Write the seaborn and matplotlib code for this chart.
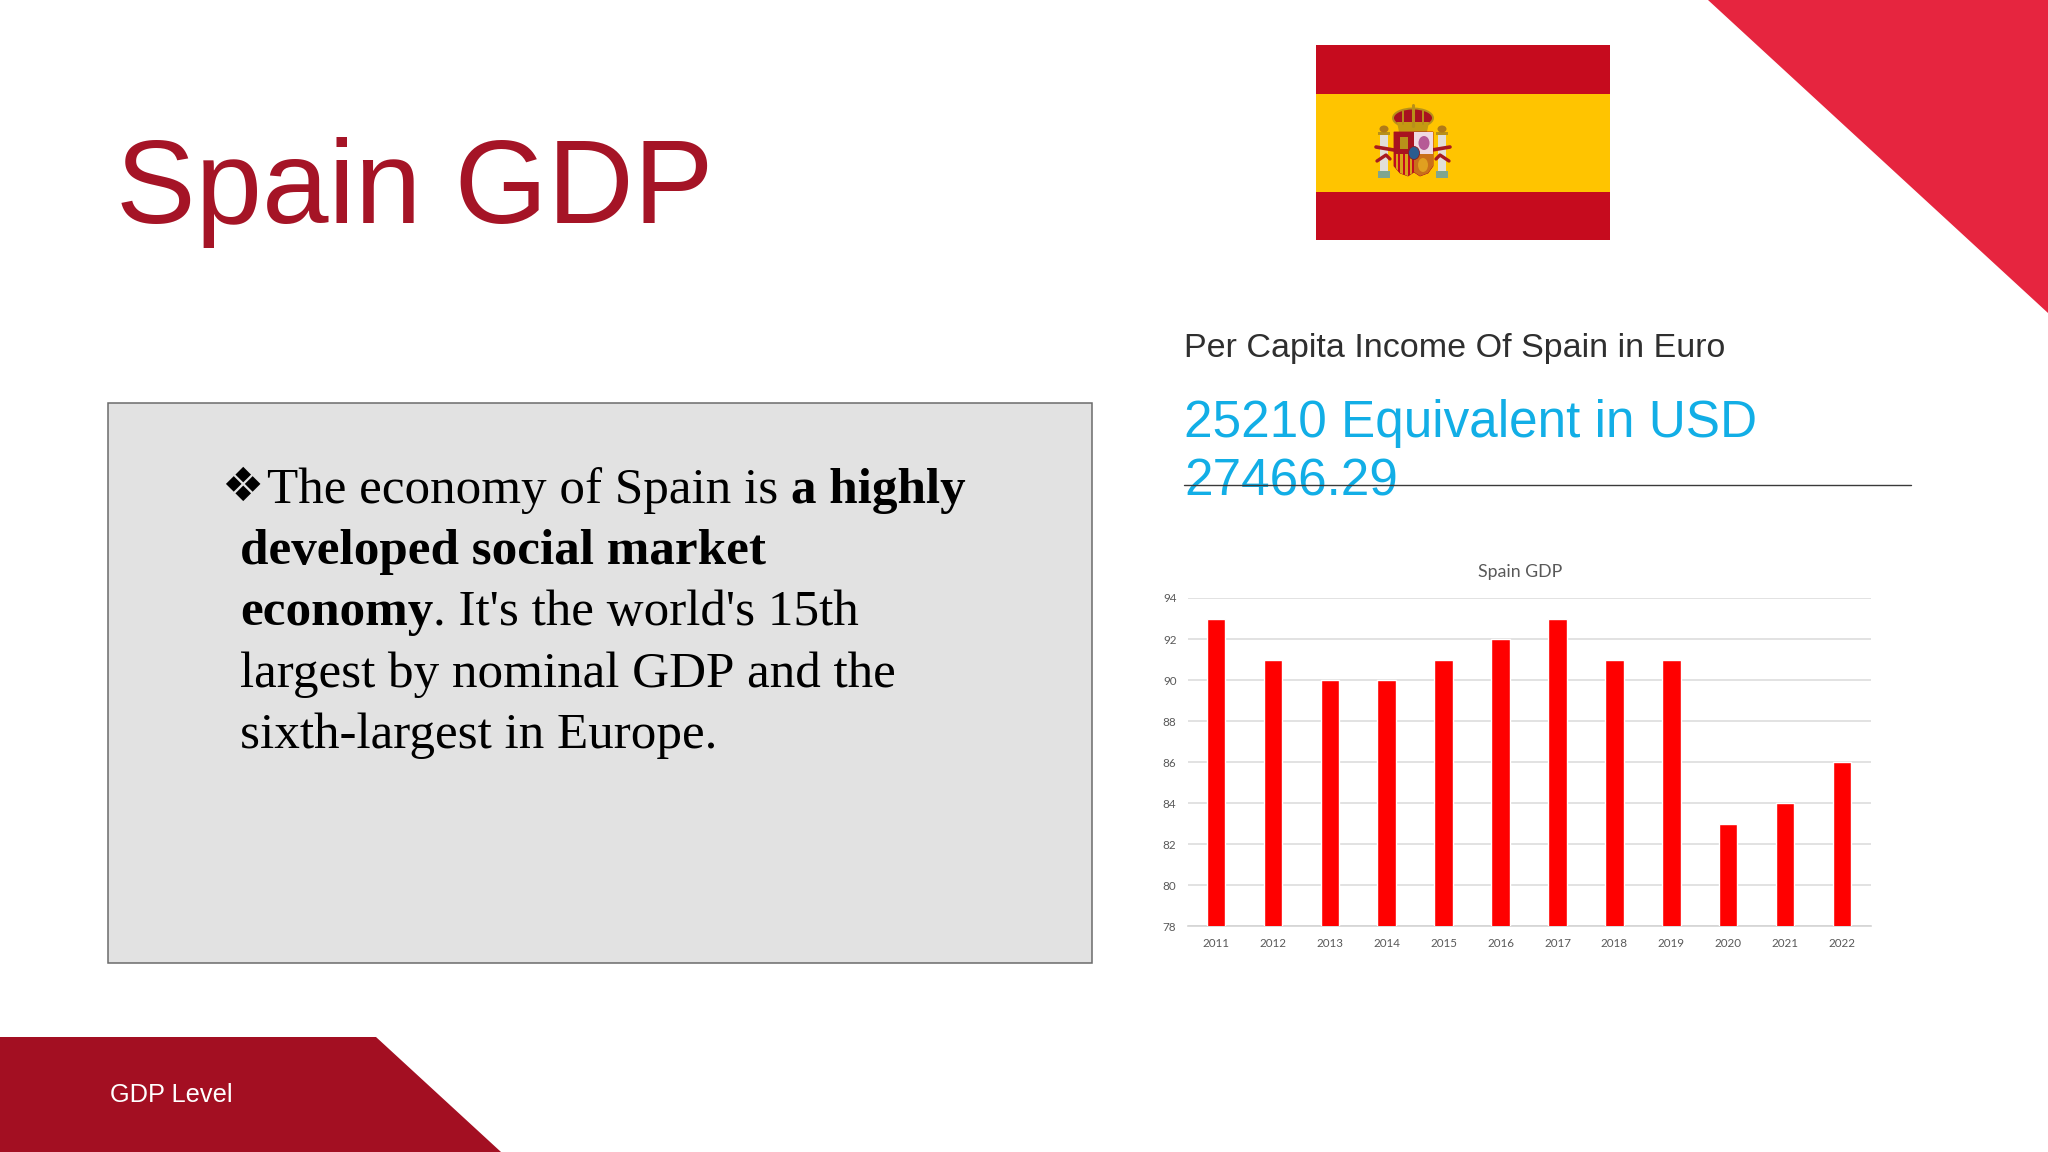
import matplotlib
matplotlib.use("Agg")
import matplotlib.pyplot as plt
from matplotlib.patches import Polygon, Rectangle, Ellipse
import seaborn as sns
import pandas as pd

years = [2011, 2012, 2013, 2014, 2015, 2016, 2017, 2018, 2019, 2020, 2021, 2022]
gdp_level = [93, 91, 90, 90, 91, 92, 93, 91, 91, 83, 84, 86]
y_ticks = [78, 80, 82, 84, 86, 88, 90, 92, 94]

W, H = 2048, 1152
sns.set_theme(style="white")
fig = plt.figure(figsize=(W / 100, H / 100), dpi=100, facecolor="white")

# slide layer in pixel coordinates
bg = fig.add_axes([0, 0, 1, 1])
bg.set_xlim(0, W)
bg.set_ylim(H, 0)
bg.axis("off")

# decorative shapes
bg.add_patch(Polygon([(1708, 0), (W, 0), (W, 313)], closed=True, fc="#E6253F", ec="none"))
bg.add_patch(Polygon([(0, 1037), (376, 1037), (501, H), (0, H)], closed=True, fc="#A30F22", ec="none"))

# flag
bg.add_patch(Rectangle((1315.5, 44.5), 294, 195.5, fc="#C60B1E", ec="none"))
bg.add_patch(Rectangle((1315.5, 93.5), 294, 98, fc="#FFC400", ec="none"))

# coat of arms: pillars
for cx, sgn in ((1384, 1), (1442, -1)):
    bg.add_patch(Rectangle((cx - 4, 132), 8, 40, fc="#E2DFD8", ec="none", zorder=3))
    bg.add_patch(Rectangle((cx - 6, 171), 12, 7, fc="#7FA58F", ec="none", zorder=3))
    bg.add_patch(Rectangle((cx - 6, 132), 12, 3, fc="#B8901A", ec="none", zorder=3))
    bg.add_patch(Ellipse((cx, 129), 9, 7, fc="#B07A18", ec="none", zorder=3))
    bg.plot([cx - 8 * sgn, cx + 10 * sgn], [147, 150], color="#A81A20", lw=2.6, zorder=4, solid_capstyle="round")
    bg.plot([cx - 7 * sgn, cx + 2 * sgn, cx + 6 * sgn], [161, 155, 159], color="#A81A20", lw=2.4, zorder=4, solid_capstyle="round")

# coat of arms: crown
bg.add_patch(Ellipse((1413, 118), 40, 19, fc="#A81220", ec="#B8901A", lw=1.4, zorder=3))
bg.add_patch(Polygon([(1397, 122), (1429, 122), (1427, 132), (1399, 132)], fc="#C49A12", ec="none", zorder=4))
bg.plot([1413, 1413], [105, 126], color="#B8901A", lw=2.2, zorder=4)
for cx in (1403, 1423):
    bg.plot([cx, cx], [111, 124], color="#B8901A", lw=1.4, zorder=4)

# coat of arms: shield
shield_clip = Polygon([(1394, 132), (1433, 132), (1433, 166), (1428, 173), (1420, 176), (1414, 172),
                       (1408, 176), (1400, 173), (1394, 166)], fc="#C60B1E", ec="#A81220", lw=0.6, zorder=4)
bg.add_patch(shield_clip)
bg.add_patch(Rectangle((1394, 132), 20, 22, fc="#A81220", ec="none", zorder=5))
bg.add_patch(Rectangle((1400, 137), 8, 12, fc="#B8901A", ec="none", zorder=5))
bg.add_patch(Rectangle((1414, 132), 19, 22, fc="#EFD9E2", ec="none", zorder=5))
bg.add_patch(Ellipse((1424, 143), 11, 14, fc="#B65A96", ec="none", zorder=5))
for i in range(4):
    stripe = Rectangle((1395.5 + i * 4.7, 154), 2.6, 23, fc="#D9A21A", ec="none", zorder=5)
    bg.add_patch(stripe)
    stripe.set_clip_path(shield_clip)
low_right = Rectangle((1414, 154), 19, 23, fc="#C9701A", ec="none", zorder=5)
bg.add_patch(low_right)
low_right.set_clip_path(shield_clip)
bg.add_patch(Ellipse((1423, 165), 10, 14, fc="#E0A020", ec="none", zorder=5))
bg.add_patch(Ellipse((1414, 153), 11, 13, fc="#2B5C8F", ec="#8A1A20", lw=0.6, zorder=6))

# grey text box
bg.add_patch(Rectangle((108, 403), 984, 559.5, fc="#E2E2E2", ec="#6B6B6B", lw=1.1))

# texts
sans = "Liberation Sans"
serif = "Liberation Serif"
bg.text(116, 223, "Spain GDP", family=sans, fontsize=86, color="#A51426", va="baseline")
bg.text(110, 1102, "GDP Level", family=sans, fontsize=18.3, color="white", va="baseline")
bg.text(1184, 357, "Per Capita Income Of Spain in Euro", family=sans, fontsize=24.5, color="#2F2F2F", va="baseline")
bg.text(1184, 437, "25210 Equivalent in USD", family=sans, fontsize=36.9, color="#12AEE6", va="baseline")
bg.text(1184, 496, "27466.29", family=sans, fontsize=36.9, color="#12AEE6", va="baseline")
bg.plot([1184, 1911], [485, 485], color="#3A3A3A", lw=1.0, zorder=5)

# body paragraph with mixed weights
body_lines = [
    (267, 503, [("The economy of Spain is ", "normal"), ("a highly", "bold")]),
    (240, 564, [("developed social market", "bold")]),
    (240, 625, [("economy", "bold"), (". It's the world's 15th", "normal")]),
    (240, 687, [("largest by nominal GDP and the", "normal")]),
    (240, 748, [("sixth-largest in Europe.", "normal")]),
]
renderer = fig.canvas.get_renderer()
bg.text(221, 501, "\u2756", family="DejaVu Sans", fontsize=34, color="black", va="baseline")
for x0, yb, runs in body_lines:
    x = x0
    for s, w in runs:
        t = bg.text(x, yb, s.replace(" ", "\u00a0"), family=serif, fontsize=36.8, weight=w, color="black", va="baseline")
        x = t.get_window_extent(renderer).x1

# bar chart
ax = fig.add_axes([1187.5 / W, 1 - 926.3 / H, 683 / W, 328.3 / H])
df = pd.DataFrame({"year": years, "gdp": gdp_level})
sns.barplot(data=df, x="year", y="gdp", color="#FF0000", width=0.325, saturation=1, ax=ax, zorder=3)
ax.set_xlim(-0.5, 11.5)
ax.set_ylim(78, 94)
ax.set_yticks(y_ticks)
ax.set_xlabel("")
ax.set_ylabel("")
ax.set_facecolor("none")
ax.grid(axis="y", color="#DDDDDD", lw=1.2, zorder=0)
ax.set_axisbelow(True)
for s in ("top", "left", "right"):
    ax.spines[s].set_visible(False)
ax.spines["bottom"].set_color("#D4D4D4")
ax.spines["bottom"].set_linewidth(1.2)
ax.tick_params(axis="x", length=0, labelsize=8.4, labelcolor="#595959", pad=8.5)
ax.tick_params(axis="y", length=0, labelsize=8.4, labelcolor="#595959", pad=8)
for lab in ax.get_xticklabels() + ax.get_yticklabels():
    lab.set_family("Lato")
bg.text(1520.5, 571.5, "Spain GDP", family="Lato", fontsize=12.8, color="#595959", ha="center", va="center")

fig.savefig("out.png", dpi=100, facecolor="white")
